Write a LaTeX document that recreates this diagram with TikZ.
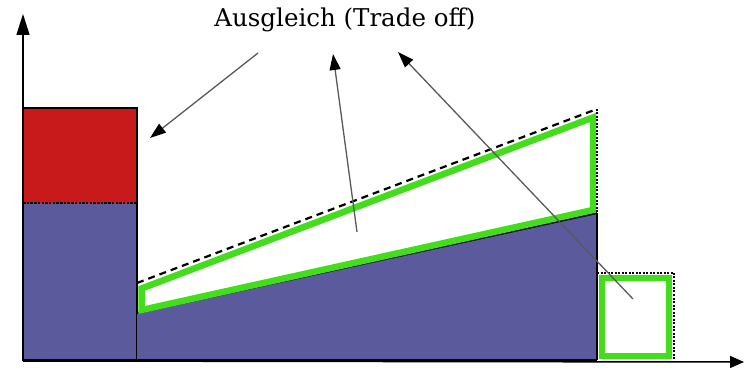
\documentclass[tikz,border=0pt]{standalone}
\usepackage{fontspec}
\newfontfamily\labelfont{DejaVu Serif}
\usetikzlibrary{arrows.meta}
\definecolor{barred}{HTML}{C81A1A}
\definecolor{barblue}{HTML}{5A5A9C}
\definecolor{tradegreen}{HTML}{44DD1E}
\tikzset{
  axis/.style={draw=black, line width=1.5pt, -{Triangle[length=21pt,width=13pt]}},
  pointer/.style={draw=black!65, line width=1.3pt, -{Triangle[length=16pt,width=11pt,color=black,fill=black]}},
  greenrim/.style={draw=tradegreen, line width=6.5pt, line join=miter},
  edge/.style={draw=black, line width=2pt},
  dotline/.style={draw=black, line width=2.5pt, dash pattern=on 2pt off 1.5pt},
}
\begin{document}
\begin{tikzpicture}[x=1pt,y=-1pt]
\useasboundingbox (0,0) rectangle (744,371);
% left bar
\fill[barred] (23,108) rectangle (137,203);
\fill[barblue] (23,203) rectangle (137,360);
\draw[edge] (23,108) rectangle (137,360);
\draw[black, line width=1.8pt, dash pattern=on 2.5pt off 1.2pt] (23,203) -- (137,203);
% slanted blue region
\fill[barblue] (137,313) -- (597,213) -- (597,360) -- (137,360) -- cycle;
\draw[edge] (137,313) -- (597,213);
\draw[edge] (23,360) -- (597,360);
% trapezoid
\draw[greenrim] (141.5,288.5) -- (593,117.5) -- (593,210) -- (141.5,310) -- cycle;
\draw[black, line width=2.2pt, dash pattern=on 7pt off 5pt] (137,283) -- (597,109);
\draw[dotline] (597,109) -- (597,213);
% small box
\draw[greenrim] (602,278) rectangle (669,356);
\draw[dotline] (597,273) -- (674,273) -- (674,360);
\draw[edge] (597,213) -- (597,360);
% axes
\coordinate (o) at (23,361);
\coordinate (ytop) at (23,14);
\coordinate (xend) at (744,362);
\draw[axis] (o) -- (ytop);
\draw[axis, -{Triangle[length=14pt,width=12pt]}] (o) -- (xend);
% label and pointers
\node[font=\labelfont\fontsize{24.5}{28}\selectfont, inner sep=0pt] (lbl) at (345,20) {Ausgleich (Trade off)};
\coordinate (t1) at (258,53);
\coordinate (h1) at (150,138);
\coordinate (t2) at (357,232);
\coordinate (h2) at (333,54);
\coordinate (t3) at (633,299);
\coordinate (h3) at (398,52);
\draw[pointer] (t1) -- (h1);
\draw[pointer] (t2) -- (h2);
\draw[pointer] (t3) -- (h3);
\end{tikzpicture}
\end{document}
